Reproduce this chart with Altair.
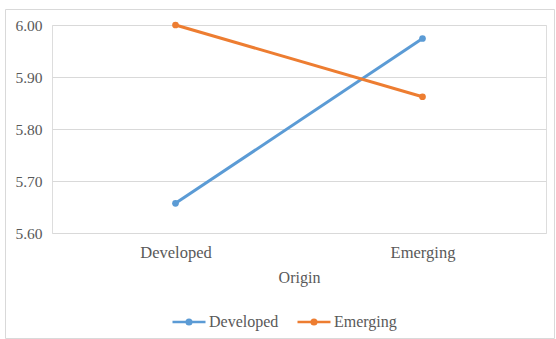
import altair as alt
import pandas as pd

categories = ["Developed", "Emerging"]
series_names = ["Developed", "Emerging"]
developed_vals = [5.657, 5.974]
emerging_vals = [6.00, 5.862]
y_ticks = [5.6, 5.7, 5.8, 5.9, 6.0]

rows = []
for c, v in zip(categories, developed_vals):
    rows.append({"Origin": c, "Series": "Developed", "Value": v})
for c, v in zip(categories, emerging_vals):
    rows.append({"Origin": c, "Series": "Emerging", "Value": v})
df = pd.DataFrame(rows)

TXT = "#595959"
FONT = "Liberation Serif"

color = alt.Color(
    "Series:N",
    scale=alt.Scale(domain=series_names, range=["#5B9BD5", "#ED7D31"]),
    legend=alt.Legend(
        title=None,
        orient="none",
        direction="horizontal",
        legendX=119,
        legendY=279,
        symbolType="M-1,0H1M0.14,0A0.14,0.14 0 1,1 -0.14,0A0.14,0.14 0 1,1 0.14,0Z",
        symbolSize=1089,
        symbolStrokeWidth=2.5,
        labelFontSize=16,
        labelColor=TXT,
        labelOffset=2,
        columnPadding=13,
    ),
)

x = alt.X(
    "Origin:N",
    sort=categories,
    scale=alt.Scale(type="point", padding=0.5),
    axis=alt.Axis(
        title="Origin",
        labelAngle=0,
        labelFontSize=16.5,
        labelColor=TXT,
        labelPadding=11,
        titleFontSize=16,
        titleFontWeight="normal",
        titleColor=TXT,
        titlePadding=9,
        ticks=False,
        domain=False,
        grid=False,
    ),
)
y = alt.Y(
    "Value:Q",
    scale=alt.Scale(domain=[5.6, 6.0], nice=False, zero=False),
    axis=alt.Axis(
        title=None,
        values=y_ticks,
        format=".2f",
        labelFontSize=15.5,
        labelColor=TXT,
        labelPadding=10,
        ticks=False,
        domain=False,
        gridColor="#d9d9d9",
        gridWidth=1,
    ),
)

base = alt.Chart(df)
lines = base.mark_line(strokeWidth=3).encode(x=x, y=y, color=color, detail="Series:N")
points = base.mark_point(filled=True, size=45, opacity=1).encode(x=x, y=y, color=color)

border = alt.Chart(pd.DataFrame({"a": [0]})).mark_rect(
    fill=None, stroke="#d9d9d9", strokeWidth=1
).encode(
    x=alt.value(-46.5), x2=alt.value(502.5), y=alt.value(-15.5), y2=alt.value(313.5)
)

chart = alt.layer(border, lines, points).properties(
    width=494,
    height=208,
    autosize=alt.AutoSizeParams(type="none"),
    padding={"left": 52, "top": 25, "right": 10, "bottom": 106},
    background="white",
).configure_view(stroke=None).configure(font=FONT)

chart.save("out.html", embed_options={"renderer": "svg", "actions": False})
